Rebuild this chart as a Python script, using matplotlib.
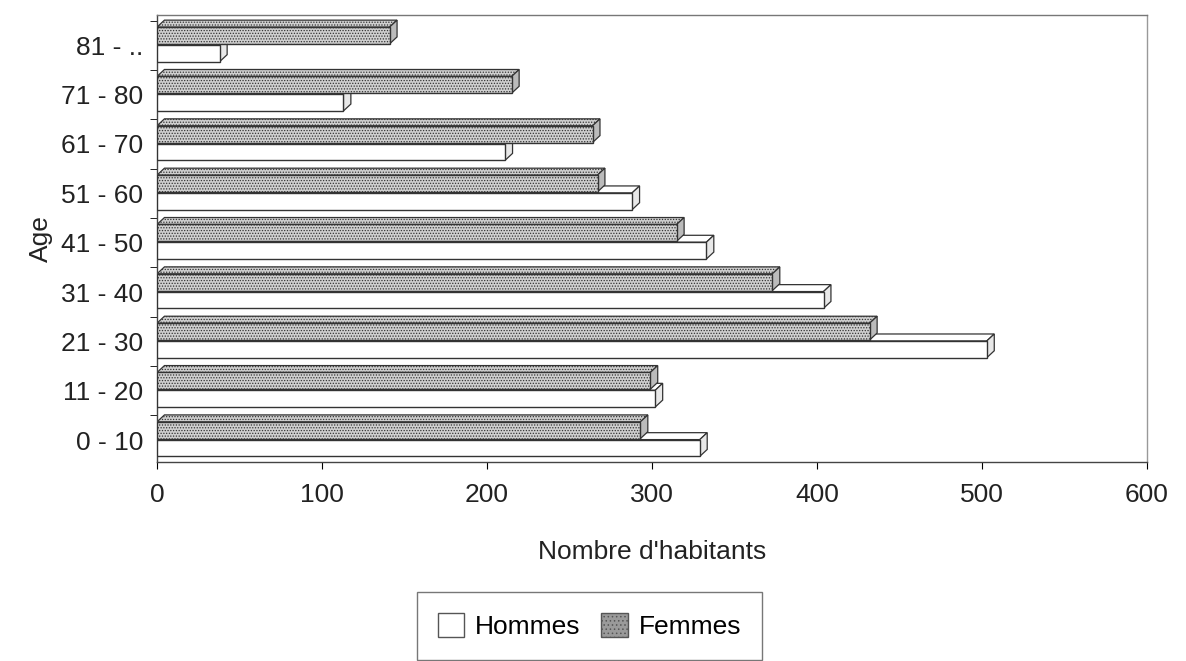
import matplotlib.pyplot as plt
import numpy as np
from matplotlib.patches import Polygon, Patch

# Données
categories = ["0 - 10", "11 - 20", "21 - 30", "31 - 40", "41 - 50",
              "51 - 60", "61 - 70", "71 - 80", "81 - .."]
hommes = [329, 302, 503, 404, 333, 288, 211, 113, 38]
femmes = [293, 299, 432, 373, 315, 267, 264, 215, 141]

plt.rcParams["font.family"] = ["Liberation Sans", "DejaVu Sans"]

fig = plt.figure(figsize=(11.86, 6.61), dpi=100)
ax = fig.add_axes([0.1324, 0.301, 0.8346, 0.676])

y = np.arange(len(categories))
h = 0.34
off_f = 0.2
off_h = -0.16
# profondeur 3D (en unités de données)
dx = 4.5
dy = 0.14

col_h = "white"
col_f = "#cfcfcf"
edge = "#333333"


def bar3d(yc, w, fc, hatch):
    yb, yt = yc - h / 2, yc + h / 2
    ax.barh(yc, w, height=h, color=fc, edgecolor=edge, linewidth=1.0,
            hatch=hatch, zorder=3)
    top = Polygon([(0, yt), (w, yt), (w + dx, yt + dy), (dx, yt + dy)],
                  closed=True, facecolor=fc, edgecolor=edge, linewidth=0.9,
                  hatch=hatch, zorder=2)
    side = Polygon([(w, yb), (w, yt), (w + dx, yt + dy), (w + dx, yb + dy)],
                   closed=True, facecolor="#e8e8e8" if fc == "white" else "#bbbbbb",
                   edgecolor=edge, linewidth=0.9, zorder=2)
    ax.add_patch(top)
    ax.add_patch(side)


plt.rcParams["hatch.color"] = "#8a8a8a"
plt.rcParams["hatch.linewidth"] = 0.6
for i in range(len(categories)):
    bar3d(y[i] + off_h, hommes[i], col_h, None)
    bar3d(y[i] + off_f, femmes[i], col_f, "......")

ax.set_xlim(0, 600)
ax.set_ylim(-0.445, 8.61)
ax.set_xticks(np.arange(0, 601, 100))
ax.set_yticks(y)
ax.set_yticklabels(categories)
ax.set_yticks(y + 0.5, minor=True)
ax.tick_params(axis="y", which="major", length=0, pad=10, labelsize=19,
               labelcolor="#222222")
ax.tick_params(axis="y", which="minor", length=5, direction="out")
ax.tick_params(axis="x", length=5, labelsize=19, pad=10, labelcolor="#222222")

for s in ["left", "bottom", "top", "right"]:
    ax.spines[s].set_linewidth(1.0)
    ax.spines[s].set_color("#444444")
ax.spines["right"].set_color("#999999")
ax.spines["top"].set_color("#777777")

ax.set_xlabel("Nombre d'habitants", fontsize=19, labelpad=24, color="#222222")
ax.set_ylabel("Age", fontsize=19, labelpad=6, color="#222222")

handles = [Patch(facecolor="white", edgecolor="#555555", label="Hommes"),
           Patch(facecolor="#9a9a9a", edgecolor="#555555", hatch="....",
                 label="Femmes")]
leg = fig.legend(handles=handles, loc="upper center",
                 bbox_to_anchor=(0.497, 0.124), ncol=2, fontsize=19,
                 frameon=True, fancybox=False, edgecolor="#555555",
                 handlelength=1.0, handleheight=1.0, columnspacing=0.8,
                 handletextpad=0.4, borderpad=0.8)
leg.get_frame().set_linewidth(1.0)

fig.savefig("out.png", dpi=100)
